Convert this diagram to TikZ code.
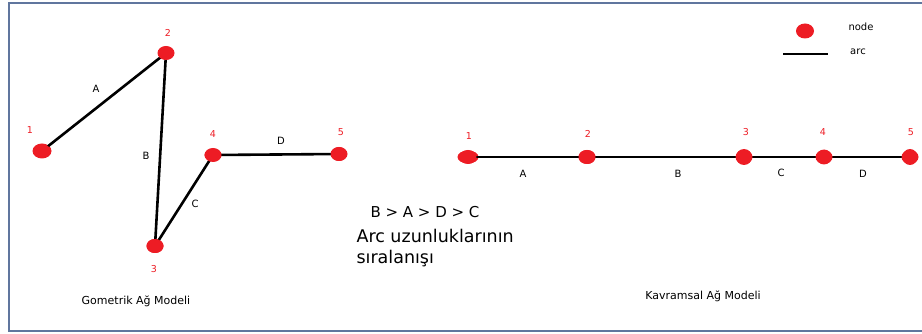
\documentclass[tikz,border=0pt]{standalone}
\usepackage{fontspec}
\setmainfont{DejaVu Sans}
\usetikzlibrary{shapes.geometric}

\definecolor{paintred}{RGB}{237,28,36}
\definecolor{framegray}{RGB}{96,118,158}

\begin{document}
\begin{tikzpicture}[x=1pt, y=-1pt,
    every node/.style={font=\fontsize{10}{12}\selectfont},
    dot/.style={ellipse, fill=paintred, inner sep=0pt, minimum width=17pt, minimum height=14pt},
    num/.style={text=paintred, font=\fontsize{9.5}{11}\selectfont},
    arcline/.style={line width=2.6pt}]

  \useasboundingbox (0,0) rectangle (922,334);
  \draw[framegray, line width=1.6pt] (922,3) -- (9,3) -- (9,331) -- (922,331);

  % gometrik model
  \node[dot, minimum width=19pt, minimum height=15pt] (g1) at (42,151) {};
  \node[dot, minimum width=15pt, minimum height=13pt] (g2) at (166,53) {};
  \node[dot] (g3) at (155,246) {};
  \node[dot, minimum height=12pt] (g4) at (213,155) {};
  \node[dot, minimum width=15pt] (g5) at (339,154) {};

  \draw[arcline] (g1.center) -- (g2.center) -- (g3.center) -- (g4.center) -- (g5.center);
  \foreach \n in {1,...,5} \node[dot, draw=none] at (g\n) {};

  \node[num] (g1n) at (30,130) {1};
  \node[num] (g2n) at (168,33) {2};
  \node[num] (g3n) at (154,269) {3};
  \node[num] (g4n) at (213,134) {4};
  \node[num] (g5n) at (341,132) {5};

  \node (gA) at (96,89) {A};
  \node (gB) at (146,156) {B};
  \node (gC) at (195,204) {C};
  \node (gD) at (281,141) {D};

  \node[font=\fontsize{11}{13}\selectfont] (gtitle) at (136,301) {Gometrik Ağ Modeli};

  % siralama
  \node[font=\fontsize{15}{18}\selectfont] (order) at (425,212) {B > A > D > C};
  \node[font=\fontsize{17.5}{21}\selectfont, anchor=west, align=left] (note) at (353,248)
    {Arc uzunluklarının\\sıralanışı};

  % kavramsal model
  \node[dot, minimum width=21pt, minimum height=13pt] (k1) at (468,157) {};
  \node[dot] (k2) at (587,157) {};
  \node[dot, minimum width=16pt, minimum height=16pt] (k3) at (744,157) {};
  \node[dot, minimum width=15pt, minimum height=15pt] (k4) at (824,157) {};
  \node[dot, minimum width=15pt, minimum height=16pt] (k5) at (910,157) {};

  \draw[arcline] (k1.center) -- (k2.center) -- (k3.center) -- (k4.center) -- (k5.center);
  \foreach \n in {1,...,5} \node[dot, draw=none] at (k\n) {};

  \node[num] (k1n) at (469,136) {1};
  \node[num] (k2n) at (588,134) {2};
  \node[num] (k3n) at (746,132) {3};
  \node[num] (k4n) at (823,132) {4};
  \node[num] (k5n) at (911,132) {5};

  \node (kA) at (523,174) {A};
  \node (kB) at (678,174) {B};
  \node (kC) at (781,173) {C};
  \node (kD) at (863,174) {D};

  \node[font=\fontsize{11}{13}\selectfont] (ktitle) at (703,296) {Kavramsal Ağ Modeli};

  % legend
  \node[dot, minimum width=18pt, minimum height=15pt] (legdot) at (805,31) {};
  \node (legnode) at (861,27) {node};
  \coordinate (legl) at (783,54);
  \coordinate (legr) at (828,54);
  \draw[arcline] (legl) -- (legr);
  \node (legarc) at (858,52) {arc};

\end{tikzpicture}
\end{document}
